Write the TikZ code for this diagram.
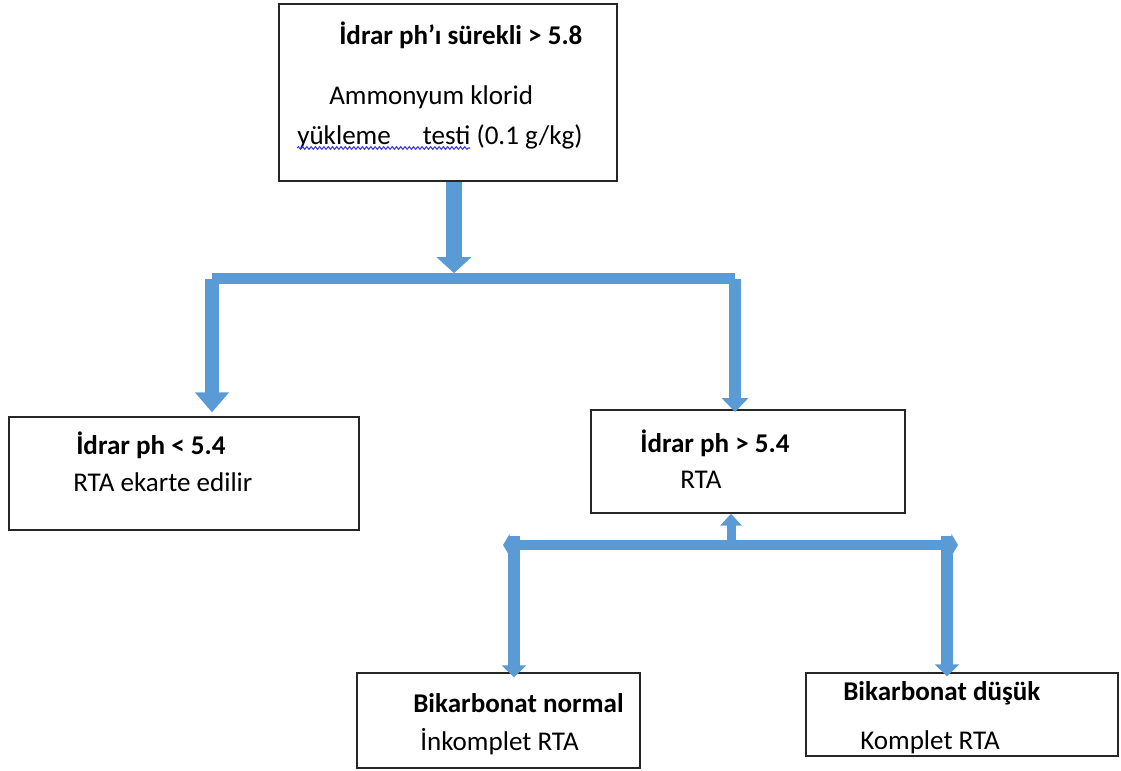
\documentclass[tikz,border=0pt]{standalone}
\usepackage{fontspec}
\setmainfont{Carlito}
\usepackage{xcolor}
\usetikzlibrary{arrows.meta, positioning, decorations.pathmorphing}
\definecolor{flowblue}{HTML}{5B9BD5}
\definecolor{spellblue}{HTML}{3A3AE0}

\begin{document}
\begin{tikzpicture}[
  x=0.75pt, y=-0.75pt,
  font=\fontsize{20.3}{24}\selectfont,
  box/.style={draw=black!85, line width=1pt, inner sep=0pt},
  txt/.style={inner sep=0pt, anchor=west},
  head/.style={txt, font=\fontsize{20.3}{24}\selectfont\bfseries},
  bar/.style={draw=flowblue, line width=8.25pt},
  fat/.style={draw=flowblue, line width=12pt, -{Triangle[width=25.5pt, length=12pt]}},
  dropL/.style={draw=flowblue, line width=10.5pt, -{Triangle[width=24.75pt, length=15pt]}},
  dropR/.style={draw=flowblue, line width=9pt, -{Triangle[width=19.5pt, length=10.5pt]}},
  uparrow/.style={draw=flowblue, line width=6.75pt, -{Triangle[width=15.75pt, length=9pt]}},
  both/.style={draw=flowblue, line width=7.5pt, {Triangle[width=16.5pt, length=5pt]}-{Triangle[width=16.5pt, length=5pt]}},
  drop/.style={draw=flowblue, line width=9pt, -{Triangle[width=18pt, length=9pt]}},
  squiggle/.style={draw=spellblue, line width=0.8pt, decorate, decoration={snake, amplitude=1pt, segment length=3.2pt}}
]
\useasboundingbox (0,0) rectangle (1121,771);

\node[box, minimum width=253.5pt, minimum height=132.75pt] (top) at (448,92.5) {};
\node[box, minimum width=262.5pt, minimum height=84.75pt] (neg) at (184,473.5) {};
\node[box, minimum width=235.5pt, minimum height=77.25pt] (pos) at (748,461.5) {};
\node[box, minimum width=212.25pt, minimum height=71.25pt] (norm) at (498.5,720.5) {};
\node[box, minimum width=234pt, minimum height=62.25pt] (low) at (962,714.5) {};

\node[head] (topT) at (339,35) {İdrar ph’ı sürekli > 5.8};
\node[txt] (topA) at (329,97) {Ammonyum klorid};
\node[txt] (topB) at (297,137) {yükleme\hspace{24pt}testi (0.1 g/kg)};
\node[head] (negT) at (76,445) {İdrar ph < 5.4};
\node[txt] (negA) at (73,482) {RTA ekarte edilir};
\node[head] (posT) at (640,443) {İdrar ph > 5.4};
\node[txt] (posA) at (680,480) {RTA};
\node[head] (normT) at (413,703) {Bikarbonat normal};
\node[txt] (normA) at (420,742) {İnkomplet RTA};
\node[head] (lowT) at (843,693) {Bikarbonat düşük};
\node[txt] (lowA) at (860,742) {Komplet RTA};

\draw[squiggle] (297,148) -- (470,148);

\coordinate (split) at (454,278.5);
\coordinate (barL) at (212,278.5);
\coordinate (barR) at (735,278.5);
\draw[fat] (top.south -| split) -- ([yshift=4pt]split);
\draw[bar] (barL) -- (barR);
\draw[dropL] (barL) -- ([yshift=3pt]barL |- neg.north);
\draw[dropR] (barR) -- ([yshift=-2pt]barR |- pos.north);

\coordinate (split2) at (731,545);
\coordinate (barL2) at (514,545);
\coordinate (barR2) at (947,545);
\draw[uparrow] (split2) -- (split2 |- pos.south);
\draw[both] ([xshift=-8.25pt]barL2) -- ([xshift=8.25pt]barR2);
\draw[drop] ([yshift=6.75pt]barL2) -- ([yshift=-3.75pt]barL2 |- norm.north);
\draw[drop] ([yshift=6.75pt]barR2) -- ([yshift=-3pt]barR2 |- low.north);
\end{tikzpicture}
\end{document}
